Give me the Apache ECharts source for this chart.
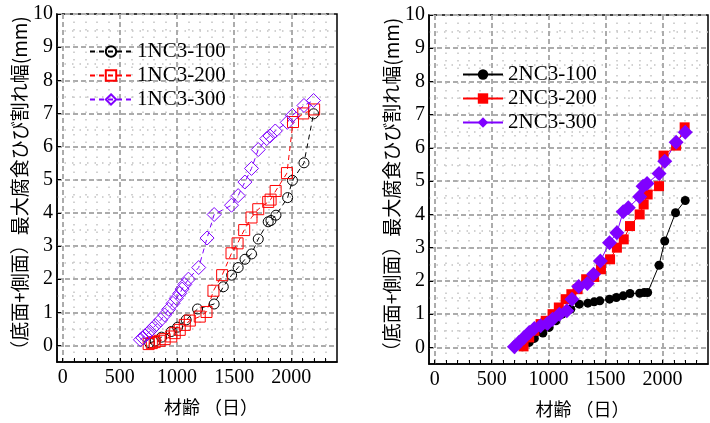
<!DOCTYPE html>
<html>
<head>
<meta charset="utf-8">
<script src="https://cdn.jsdelivr.net/npm/echarts@6/dist/echarts.min.js"></script>
<style>
html,body{margin:0;padding:0;background:#fff;}
#chart{width:710px;height:423px;}
</style>
</head>
<body>
<div id="chart"></div>
<script>
// ---- Data ----
const names1 = ['1NC3-100', '1NC3-200', '1NC3-300'];
const names2 = ['2NC3-100', '2NC3-200', '2NC3-300'];

const days1_100  = [760, 810, 865, 950, 1005, 1080, 1180, 1325, 1405, 1478, 1535, 1595, 1652, 1711, 1798, 1822, 1866, 1968, 2010, 2111, 2195];
const crack1_100 = [0.08, 0.13, 0.25, 0.42, 0.55, 0.77, 1.10, 1.25, 1.77, 2.12, 2.35, 2.60, 2.76, 3.21, 3.73, 3.77, 3.93, 4.46, 4.98, 5.51, 6.99];

const days1_200  = [752, 780, 805, 848, 892, 950, 980, 1024, 1068, 1112, 1199, 1258, 1319, 1395, 1477, 1530, 1588, 1652, 1711, 1798, 1819, 1863, 1962, 2015, 2105, 2200];
const crack1_200 = [0.04, 0.07, 0.10, 0.14, 0.19, 0.27, 0.37, 0.47, 0.62, 0.75, 0.87, 1.01, 1.65, 2.12, 2.78, 3.08, 3.48, 3.86, 4.11, 4.33, 4.40, 4.66, 5.20, 6.74, 7.00, 7.12];

const days1_300  = [680, 700, 720, 740, 760, 782, 810, 857, 892, 927, 965, 994, 1024, 1045, 1068, 1100, 1190, 1263, 1325, 1477, 1535, 1594, 1652, 1711, 1785, 1813, 1860, 1965, 2010, 2111, 2195];
const crack1_300 = [0.17, 0.23, 0.29, 0.35, 0.42, 0.50, 0.60, 0.77, 0.92, 1.09, 1.27, 1.42, 1.57, 1.70, 1.84, 2.00, 2.35, 3.24, 3.95, 4.23, 4.52, 4.93, 5.34, 5.91, 6.24, 6.32, 6.47, 6.73, 6.94, 7.24, 7.39];

const days2_100  = [770, 830, 875, 950, 1005, 1065, 1120, 1195, 1270, 1345, 1400, 1450, 1535, 1595, 1655, 1715, 1800, 1840, 1870, 1970, 2020, 2115, 2200];
const crack2_100 = [0.02, 0.15, 0.27, 0.43, 0.60, 0.80, 1.00, 1.15, 1.30, 1.33, 1.37, 1.40, 1.45, 1.50, 1.55, 1.62, 1.63, 1.65, 1.65, 2.47, 3.20, 4.05, 4.42];

const days2_200  = [780, 830, 875, 930, 975, 1035, 1090, 1150, 1200, 1255, 1330, 1400, 1460, 1540, 1600, 1660, 1715, 1800, 1835, 1870, 1970, 2010, 2120, 2195];
const crack2_200 = [0.03, 0.30, 0.50, 0.70, 0.80, 1.00, 1.20, 1.45, 1.60, 1.75, 2.05, 2.12, 2.35, 2.65, 3.00, 3.25, 3.65, 4.00, 4.30, 4.60, 4.85, 5.77, 6.07, 6.62];

const days2_300  = [700, 740, 785, 830, 875, 930, 990, 1035, 1095, 1160, 1205, 1265, 1340, 1395, 1455, 1535, 1600, 1655, 1700, 1800, 1830, 1865, 1970, 2020, 2120, 2200];
const crack2_300 = [0.02, 0.15, 0.30, 0.45, 0.57, 0.65, 0.72, 0.85, 1.00, 1.10, 1.45, 1.83, 1.92, 2.20, 2.60, 3.15, 3.45, 4.08, 4.20, 4.53, 4.85, 4.93, 5.23, 5.60, 6.17, 6.47];

// tick values / labels
const xMajorTicks = [0, 500, 1000, 1500, 2000];
const xMinorTicks = [100, 200, 300, 400, 600, 700, 800, 900, 1100, 1200, 1300, 1400, 1600, 1700, 1800, 1900, 2100, 2200, 2300];
const yMajorTicks = [0, 1, 2, 3, 4, 5, 6, 7, 8, 9, 10];
const yMinorTicks = [0.5, 1.5, 2.5, 3.5, 4.5, 5.5, 6.5, 7.5, 8.5, 9.5];

const xTitle = '材齢 （日）';
const yTitle = '（底面+側面）最大腐食ひび割れ幅(mm)';

// ---- Build chart ----
const zip = (xs, ys) => xs.map((x, i) => [x, ys[i]]);
const SERIF = '"Liberation Serif", "DejaVu Serif", serif';
const CJK = '"Noto Sans CJK JP", sans-serif';
const PURPLE = '#8000ff';

const majorSplit = { show: true, lineStyle: { color: '#acacac', width: 2, type: [5, 3] } };
const minorSplit = { show: true, lineStyle: { color: '#c2c2c2', width: 1.5, type: [1.5, 6] } };

function xAxes(gi) {
  return [
    {
      gridIndex: gi, type: 'value', position: 'bottom', min: -50, max: 2400,
      name: xTitle, nameLocation: 'middle', nameGap: 36,
      nameTextStyle: { fontFamily: CJK, fontSize: 18, color: '#000', padding: [0, 0, 0, 28] },
      axisLine: { show: true, onZero: false, lineStyle: { color: '#000', width: 1.5 } },
      axisTick: { show: true, inside: true, length: 4, customValues: xMajorTicks, lineStyle: { color: '#000' } },
      axisLabel: { customValues: xMajorTicks, fontFamily: SERIF, fontSize: 20, color: '#000', margin: 6, formatter: v => String(v) },
      splitLine: majorSplit
    },
    {
      gridIndex: gi, type: 'value', position: 'bottom', min: -50, max: 2400,
      axisLine: { show: false, onZero: false },
      axisTick: { show: true, inside: true, length: 4, customValues: xMinorTicks, lineStyle: { color: '#000' } },
      axisLabel: { show: false },
      splitLine: minorSplit
    }
  ];
}
function yAxes(gi) {
  return [
    {
      gridIndex: gi, type: 'value', position: 'left', min: -0.5, max: 10,
      name: yTitle, nameLocation: 'middle', nameGap: 22, nameRotate: 90,
      nameTextStyle: { fontFamily: CJK, fontSize: 19, color: '#000' },
      axisLine: { show: true, onZero: false, lineStyle: { color: '#000', width: 1.5 } },
      axisTick: { show: true, inside: true, length: 4, customValues: yMajorTicks, lineStyle: { color: '#000' } },
      axisLabel: { customValues: yMajorTicks, fontFamily: SERIF, fontSize: 20, color: '#000', margin: 4, formatter: v => String(v) },
      splitLine: majorSplit
    },
    {
      gridIndex: gi, type: 'value', position: 'right', min: -0.5, max: 10,
      axisLine: { show: false, onZero: false },
      axisTick: { show: false, customValues: yMinorTicks },
      axisLabel: { show: false },
      splitLine: minorSplit
    }
  ];
}

function openSeries(name, xs, ys, symbol, size, color, xi, yi) {
  return {
    name, type: 'line', xAxisIndex: xi, yAxisIndex: yi,
    data: zip(xs, ys), symbol, symbolSize: size,
    lineStyle: { color, width: 1, type: [5, 4] },
    itemStyle: { color: 'rgba(255,255,255,0)', borderColor: color, borderWidth: 1 },
    emphasis: { disabled: true }, animation: false
  };
}
function filledSeries(name, xs, ys, symbol, size, color, xi, yi) {
  return {
    name, type: 'line', xAxisIndex: xi, yAxisIndex: yi,
    data: zip(xs, ys), symbol, symbolSize: size,
    lineStyle: { color, width: 1, type: 'solid' },
    itemStyle: { color, borderWidth: 0 },
    emphasis: { disabled: true }, animation: false
  };
}

const legendText = { fontFamily: SERIF, fontSize: 21, color: '#000', lineHeight: 20 };

const option = {
  animation: false,
  backgroundColor: '#fff',
  grid: [
    { left: 57, right: 373, top: 14, bottom: 61, show: true, borderColor: '#000', borderWidth: 1.5, backgroundColor: 'transparent' },
    { left: 429, right: 2, top: 15, bottom: 58, show: true, borderColor: '#000', borderWidth: 1.5, backgroundColor: 'transparent' }
  ],
  xAxis: [...xAxes(0), ...xAxes(1)],
  yAxis: [...yAxes(0), ...yAxes(1)],
  legend: [
    { data: names1, orient: 'vertical', left: 84, top: 36, itemWidth: 42, itemHeight: 13, itemGap: 3, textStyle: legendText, selectedMode: false },
    { data: names2, orient: 'vertical', left: 457, top: 59, itemWidth: 40, itemHeight: 13, itemGap: 3, textStyle: legendText, selectedMode: false }
  ],
  series: [
    openSeries(names1[0], days1_100, crack1_100, 'circle', 10, '#000', 0, 0),
    openSeries(names1[1], days1_200, crack1_200, 'rect', 11, '#ff0000', 0, 0),
    openSeries(names1[2], days1_300, crack1_300, 'diamond', 14, PURPLE, 0, 0),
    filledSeries(names2[0], days2_100, crack2_100, 'circle', 9, '#000', 2, 2),
    filledSeries(names2[1], days2_200, crack2_200, 'rect', 10, '#ff0000', 2, 2),
    filledSeries(names2[2], days2_300, crack2_300, 'diamond', 15, PURPLE, 2, 2)
  ]
};

const chart = echarts.init(document.getElementById('chart'), null, { renderer: 'canvas' });
chart.setOption(option);
</script>
</body>
</html>
